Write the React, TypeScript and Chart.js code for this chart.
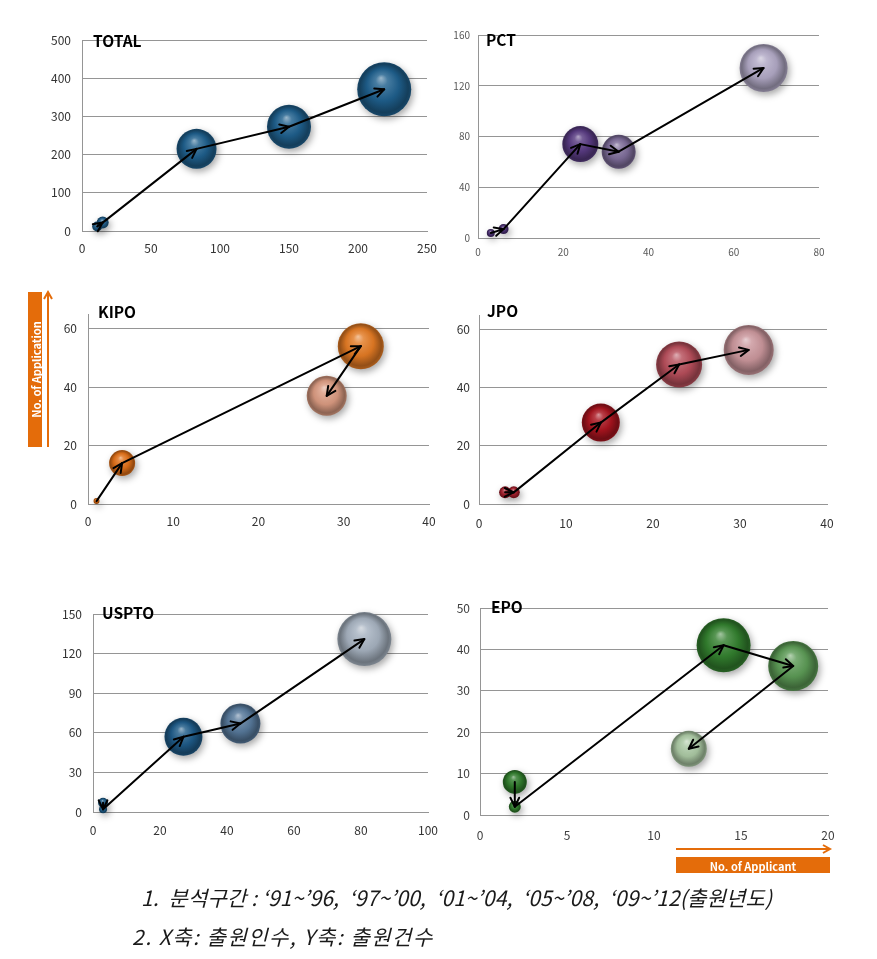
import React, { useEffect, useRef } from 'react';
import { Chart, registerables } from 'chart.js';
Chart.register(...registerables);

// ---------- DATA ----------
// TOTAL
const TOTAL_X = [11, 15, 83, 150, 219];
const TOTAL_Y = [12, 22, 215, 273, 371];
const TOTAL_R = [5, 6, 20, 22, 27];
const TOTAL_X_TICKS = [0, 50, 100, 150, 200, 250];
const TOTAL_Y_TICKS = [0, 100, 200, 300, 400, 500];
// PCT
const PCT_X = [3, 6, 24, 33, 67];
const PCT_Y = [4, 7, 74, 68, 134];
const PCT_R = [4, 5, 18, 17, 24];
const PCT_X_TICKS = [0, 20, 40, 60, 80];
const PCT_Y_TICKS = [0, 40, 80, 120, 160];
// KIPO
const KIPO_X = [1, 4, 32, 28];
const KIPO_Y = [1, 14, 54, 37];
const KIPO_R = [3, 13, 23, 20];
const KIPO_X_TICKS = [0, 10, 20, 30, 40];
const KIPO_Y_TICKS = [0, 20, 40, 60];
// JPO
const JPO_X = [3, 4, 14, 23, 31];
const JPO_Y = [4, 4, 28, 48, 53];
const JPO_R = [6, 6, 19, 23, 25];
const JPO_X_TICKS = [0, 10, 20, 30, 40];
const JPO_Y_TICKS = [0, 20, 40, 60];
// USPTO
const USPTO_X = [3, 3, 27, 44, 81];
const USPTO_Y = [7, 2, 57, 67, 131];
const USPTO_R = [5, 4, 19, 20, 27];
const USPTO_X_TICKS = [0, 20, 40, 60, 80, 100];
const USPTO_Y_TICKS = [0, 30, 60, 90, 120, 150];
// EPO
const EPO_X = [2, 2, 14, 18, 12];
const EPO_Y = [8, 2, 41, 36, 16];
const EPO_R = [12, 6, 27, 25, 18];
const EPO_X_TICKS = [0, 5, 10, 15, 20];
const EPO_Y_TICKS = [0, 10, 20, 30, 40, 50];

const NOTE_1 = '1.  분석구간 : ‘91~’96,  ‘97~’00,  ‘01~’04,  ‘05~’08,  ‘09~’12(출원년도)';
const NOTE_2 = '2. X축: 출원인수, Y축: 출원건수';
const Y_LABEL = 'No. of Application';
const X_LABEL = 'No. of Applicant';

// ---------- STYLES ----------
const TOTAL_COLORS = ['#1f5c88', '#1f5c88', '#1f5f8c', '#1f5f8c', '#1f5f8c'];
const PCT_COLORS = ['#4a2e72', '#4a2e72', '#573a80', '#7c6b98', '#b0a7c4'];
const KIPO_COLORS = ['#d0620d', '#e07018', '#e27a24', '#d99a80'];
const JPO_COLORS = ['#a01d2a', '#a01d2a', '#a8141f', '#b64e5a', '#c9959b'];
const USPTO_COLORS = ['#1c5a86', '#1c5a86', '#1e5b88', '#56789a', '#a5b1bf'];
const EPO_COLORS = ['#2f7a2b', '#2f7a2b', '#337f2e', '#5c9a55', '#a9c7a2'];

const FONT = '"Noto Sans CJK KR", "Noto Sans", sans-serif';

type Panel = {
  title: string;
  xs: number[]; ys: number[]; rs: number[]; colors: string[];
  xTicks: number[]; yTicks: number[];
  xMax: number; yMax: number;
  rect: [number, number, number, number];
  titlePos: [number, number];
  tickSize: number; tickColor: string; yGap: number; xGap: number;
};

const PANELS: Panel[] = [
  { title: 'TOTAL', xs: TOTAL_X, ys: TOTAL_Y, rs: TOTAL_R, colors: TOTAL_COLORS, xTicks: TOTAL_X_TICKS, yTicks: TOTAL_Y_TICKS, xMax: 250, yMax: 500, rect: [82, 27, 436, 231], titlePos: [93, 47], tickSize: 12, tickColor: '#333', yGap: 11, xGap: 10 },
  { title: 'PCT', xs: PCT_X, ys: PCT_Y, rs: PCT_R, colors: PCT_COLORS, xTicks: PCT_X_TICKS, yTicks: PCT_Y_TICKS, xMax: 80, yMax: 160, rect: [478, 25, 825, 238], titlePos: [486, 46], tickSize: 10, tickColor: '#595959', yGap: 8, xGap: 8 },
  { title: 'KIPO', xs: KIPO_X, ys: KIPO_Y, rs: KIPO_R, colors: KIPO_COLORS, xTicks: KIPO_X_TICKS, yTicks: KIPO_Y_TICKS, xMax: 40, yMax: 65, rect: [88, 305, 434, 504], titlePos: [98, 318], tickSize: 12, tickColor: '#333', yGap: 11, xGap: 10 },
  { title: 'JPO', xs: JPO_X, ys: JPO_Y, rs: JPO_R, colors: JPO_COLORS, xTicks: JPO_X_TICKS, yTicks: JPO_Y_TICKS, xMax: 40, yMax: 65, rect: [479, 304, 834, 504], titlePos: [487, 317], tickSize: 12, tickColor: '#333', yGap: 9, xGap: 12 },
  { title: 'USPTO', xs: USPTO_X, ys: USPTO_Y, rs: USPTO_R, colors: USPTO_COLORS, xTicks: USPTO_X_TICKS, yTicks: USPTO_Y_TICKS, xMax: 100, yMax: 150, rect: [93, 601, 437, 812], titlePos: [102, 619], tickSize: 12, tickColor: '#333', yGap: 11, xGap: 11 },
  { title: 'EPO', xs: EPO_X, ys: EPO_Y, rs: EPO_R, colors: EPO_COLORS, xTicks: EPO_X_TICKS, yTicks: EPO_Y_TICKS, xMax: 20, yMax: 50, rect: [480, 595, 837, 815], titlePos: [491, 613], tickSize: 12, tickColor: '#404040', yGap: 10, xGap: 13 },
];

const Y_W = 44;
const PAD_TOP = 14;
const PAD_RIGHT = 18;
const X_H = 32;

function hexToRgb(h: string) {
  const n = parseInt(h.slice(1), 16);
  return [(n >> 16) & 255, (n >> 8) & 255, n & 255];
}
function mix(c: number[], t: number[], a: number) {
  return `rgb(${c.map((v, i) => Math.round(v + (t[i] - v) * a)).join(',')})`;
}

function drawArrow(ctx: CanvasRenderingContext2D, x1: number, y1: number, x2: number, y2: number) {
  const ang = Math.atan2(y2 - y1, x2 - x1);
  const L = 10, A = 0.45;
  ctx.beginPath();
  ctx.moveTo(x1, y1);
  ctx.lineTo(x2, y2);
  ctx.stroke();
  ctx.beginPath();
  ctx.moveTo(x2 - L * Math.cos(ang - A), y2 - L * Math.sin(ang - A));
  ctx.lineTo(x2, y2);
  ctx.lineTo(x2 - L * Math.cos(ang + A), y2 - L * Math.sin(ang + A));
  ctx.stroke();
}

const decorPlugin = {
  id: 'decor',
  beforeDatasetDraw(chart: any) {
    const ctx = chart.ctx;
    ctx.save();
    ctx.shadowColor = 'rgba(0,0,0,0.35)';
    ctx.shadowBlur = 7;
    ctx.shadowOffsetX = 2;
    ctx.shadowOffsetY = 3;
  },
  afterDatasetDraw(chart: any) {
    chart.ctx.restore();
  },
  afterDatasetsDraw(chart: any, _args: any, opts: any) {
    const ctx = chart.ctx as CanvasRenderingContext2D;
    const meta = chart.getDatasetMeta(0);
    ctx.save();
    ctx.strokeStyle = '#000';
    ctx.lineWidth = 2;
    ctx.lineCap = 'round';
    ctx.lineJoin = 'round';
    for (let i = 0; i < meta.data.length - 1; i++) {
      const a = meta.data[i], b = meta.data[i + 1];
      drawArrow(ctx, a.x, a.y, b.x, b.y);
    }
    ctx.fillStyle = '#000';
    ctx.font = `bold 15.5px ${FONT}`;
    ctx.textBaseline = 'alphabetic';
    ctx.textAlign = 'left';
    ctx.fillText(opts.title, opts.tx, opts.ty);
    ctx.restore();
  },
};

function BubblePanel({ p }: { p: Panel }) {
  const ref = useRef<HTMLCanvasElement>(null);
  const [L, T, R, B] = p.rect;
  const left = L - Y_W;
  const top = T - PAD_TOP;
  const width = R - L + Y_W + PAD_RIGHT;
  const height = B - T + PAD_TOP + X_H;
  useEffect(() => {
    if (!ref.current) return;
    const data = p.xs.map((x, i) => ({ x, y: p.ys[i], r: p.rs[i] }));
    const chart = new Chart(ref.current, {
      type: 'bubble',
      data: {
        datasets: [{
          data,
          clip: false,
          borderWidth: 0,
          backgroundColor: (c: any) => {
            const base = p.colors[c.dataIndex] || p.colors[0];
            if (c.type !== 'data') return base;
            const ch = c.chart;
            const xs = ch.scales.x, ys = ch.scales.y;
            if (!xs || !ys) return base;
            const cx = xs.getPixelForValue(c.raw.x);
            const cy = ys.getPixelForValue(c.raw.y);
            const r = c.raw.r;
            if (!isFinite(cx) || !isFinite(cy)) return base;
            const rgb = hexToRgb(base);
            const g = ch.ctx.createRadialGradient(cx - 0.12 * r, cy - 0.42 * r, 0, cx, cy, r);
            g.addColorStop(0, mix(rgb, [255, 255, 255], 0.55));
            g.addColorStop(0.22, mix(rgb, [255, 255, 255], 0.18));
            g.addColorStop(0.6, mix(rgb, [0, 0, 0], 0.05));
            g.addColorStop(0.9, mix(rgb, [0, 0, 0], 0.35));
            g.addColorStop(1, mix(rgb, [0, 0, 0], 0.25));
            return g;
          },
        }],
      },
      options: {
        animation: false,
        responsive: false,
        events: [],
        layout: { padding: { top: PAD_TOP, right: PAD_RIGHT, left: 0, bottom: 0 } },
        plugins: {
          legend: { display: false },
          tooltip: { enabled: false },
          decor: { title: p.title, tx: p.titlePos[0] - left, ty: p.titlePos[1] - top },
        } as any,
        scales: {
          x: {
            type: 'linear',
            min: 0,
            max: p.xMax,
            afterBuildTicks: (s: any) => { s.ticks = p.xTicks.map((v) => ({ value: v })); },
            afterFit: (s: any) => { s.height = X_H; },
            grid: { display: false, drawTicks: false },
            border: { display: true, color: '#959595', width: 1 },
            ticks: { padding: p.xGap, color: p.tickColor, font: { family: FONT, size: p.tickSize }, maxRotation: 0 },
          },
          y: {
            type: 'linear',
            min: 0,
            max: p.yMax,
            afterBuildTicks: (s: any) => { s.ticks = p.yTicks.map((v) => ({ value: v })); },
            afterFit: (s: any) => { s.width = Y_W; },
            grid: { display: true, color: '#959595', lineWidth: 1, drawTicks: false },
            border: { display: true, color: '#959595', width: 1 },
            ticks: { padding: p.yGap, color: p.tickColor, font: { family: FONT, size: p.tickSize } },
          },
        },
      },
      plugins: [decorPlugin as any],
    } as any);
    return () => chart.destroy();
  }, []);
  return (
    <canvas
      ref={ref}
      width={width}
      height={height}
      style={{ position: 'absolute', left, top, width, height }}
    />
  );
}

export default function App() {
  const orange = '#e46c0a';
  return (
    <div style={{ position: 'absolute', left: 0, top: 0, width: 877, height: 959, background: '#fff', overflow: 'hidden' }}>
      {PANELS.map((p) => <BubblePanel key={p.title} p={p} />)}
      <svg width={877} height={959} style={{ position: 'absolute', left: 0, top: 0, pointerEvents: 'none' }}>
        <rect x={28} y={292} width={14} height={155} fill={orange} />
        <text
          x={0}
          y={0}
          transform="translate(35.5,369.5) rotate(-90)"
          textAnchor="middle"
          dominantBaseline="central"
          fill="#fff"
          fontWeight="bold"
          fontSize={11}
          fontFamily={FONT}
        >{Y_LABEL}</text>
        <line x1={48} y1={447} x2={48} y2={293} stroke={orange} strokeWidth={2} />
        <polyline points="44,299 48,292 52,299" fill="none" stroke={orange} strokeWidth={2} />
        <line x1={676} y1={849} x2={829} y2={849} stroke={orange} strokeWidth={2} />
        <polyline points="823,845 830,849 823,853" fill="none" stroke={orange} strokeWidth={2} />
        <rect x={676} y={857} width={154} height={16} fill={orange} />
        <text
          x={753}
          y={865.5}
          textAnchor="middle"
          dominantBaseline="central"
          fill="#fff"
          fontWeight="bold"
          fontSize={11}
          fontFamily={FONT}
        >{X_LABEL}</text>
      </svg>
      <div style={{ position: 'absolute', left: 141, top: 883, fontFamily: FONT, fontStyle: 'italic', fontSize: 21, lineHeight: '28px', letterSpacing: '0.15px', color: '#1a1a1a', whiteSpace: 'pre' }}>{NOTE_1}</div>
      <div style={{ position: 'absolute', left: 132, top: 922, fontFamily: FONT, fontStyle: 'italic', fontSize: 21, lineHeight: '28px', letterSpacing: '1.5px', color: '#1a1a1a', whiteSpace: 'pre' }}>{NOTE_2}</div>
    </div>
  );
}
